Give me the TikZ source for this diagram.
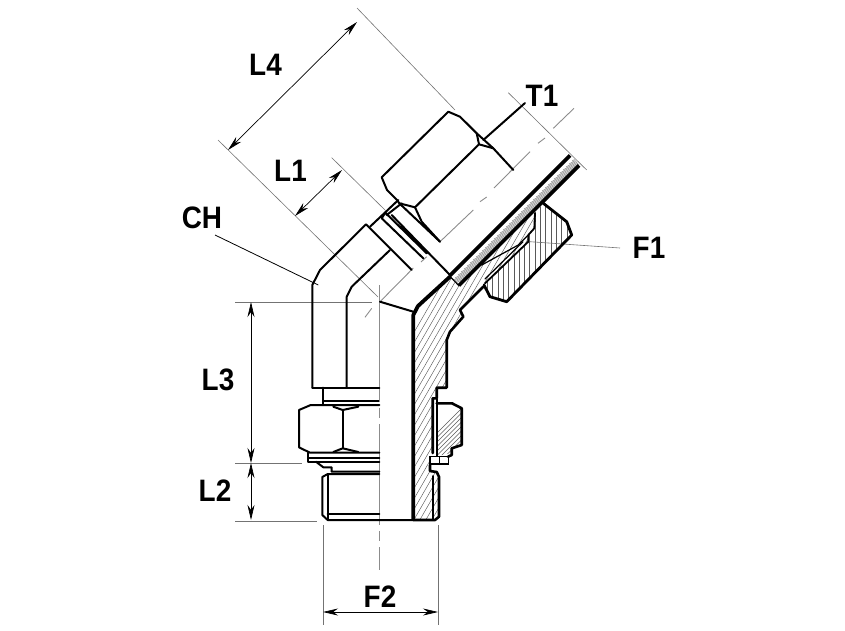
\documentclass[tikz,border=0pt]{standalone}
\usepackage{fontspec}
\setmainfont{Liberation Sans}
\usetikzlibrary{arrows.meta}
\tikzset{
 obj/.style={line width=2pt,line join=round,line cap=round},
 thin obj/.style={line width=1.3pt},
 heavy/.style={line width=3.8pt,line join=round},
 ext/.style={line width=.6pt,draw=black!55},
 cen/.style={line width=.9pt,draw=black!45},
 dim/.style={line width=.7pt,draw=black,{Stealth[length=15pt,width=7pt]}-{Stealth[length=15pt,width=7pt]}},
 lead/.style={line width=.8pt},
 hatchl/.style={line width=.45pt,draw=black!65},
 lab/.style={font=\fontsize{31}{31}\selectfont\bfseries,inner sep=0pt,xscale=.9,transform shape}
}
\begin{document}
\begin{tikzpicture}[x=1pt,y=-1pt]
\useasboundingbox (0,0) rectangle (845,630);
% ---- coordinates for dimensions
\coordinate (L4a) at (357,22); \coordinate (L4b) at (228,150);
\coordinate (L1a) at (342,170); \coordinate (L1b) at (295,216);
\coordinate (L3a) at (251,302); \coordinate (L3b) at (251,463);
\coordinate (L2a) at (251,463); \coordinate (L2b) at (251,520);
\coordinate (F2a) at (323,612); \coordinate (F2b) at (438,612);
% ---- hatching, clipped
\begin{scope}
 \clip (413.3,315)--(418,306)--(450,276.7)--(458.3,285)--(535,208)--(534.3,228.3)--(528.3,235)--(528.3,241.7)--(483.3,286.7)--(460,310)--(463.3,316.7)--(450,331.7)--(446.7,340)--(446.7,387.7)--(436.7,387.7)--(436.7,398.3)--(432.7,398.3)--(432.7,453)--(430,456)--(430,471)--(436.7,472)--(439,477)--(439,516.7)--(435,520)--(413.3,520)--cycle;
 \foreach \i in {300,306,...,900} \draw[hatchl] (\i,530)--(\i+300,10);
\end{scope}
\begin{scope}
 \clip (436.7,403.3)--(452,403.3)--(461.7,408.3)--(461.7,445)--(451.7,448.3)--(451.7,453)--(436.7,456)--cycle;
 \foreach \i in {400,404.5,...,540} \draw[hatchl] (\i,470)--(\i+70,400);
\end{scope}
\begin{scope}
 \clip (485,283.3)--(528.3,241.7)--(528.3,235)--(534.3,228.3)--(535,213)--(543.3,203.3)--(566.7,221.7)--(571.7,235)--(506.7,301.7)--(490,296.7)--cycle;
 \foreach \i in {482,487.3,...,575} \draw[hatchl] (\i,195)--(\i,305);
\end{scope}
\begin{scope}
 \clip (569.5,154)--(579.5,165)--(458.8,286)--(448.8,275.5)--cycle;
 \foreach \t in {0,...,56} \draw[line width=.7pt,draw=black!40] (443+3*\t,290-3*\t)--++(22,-12);
\end{scope}
% ---- centre lines
\draw[cen] (379.5,285)--(379.5,402) (379.5,408)--(379.5,418) (379.5,424)--(379.5,525) (379.5,531)--(379.5,541) (379.5,547)--(379.5,570);
\draw[cen] (574,108.3)--(553.3,128.3) (545,138)--(538,143.3) (530,151.7)--(494,188) (486.7,197)--(480,201.7) (473.3,210)--(440,241.7)
 (426.7,256.7)--(421,262) (413.3,268)--(380,301.7) (371.7,308.3)--(365,317.3);
% ---- extension lines
\draw[ext] (235,302)--(372,302) (235,463)--(302,463) (235,521)--(317,521);
\draw[ext] (323,525)--(323,625) (438,525)--(438,625);
\draw[ext] (357,8)--(455,110) (218,140)--(378,297);
\draw[ext] (331.7,157.7)--(385,210);
\draw[ext] (508.3,92.7)--(586.7,170);
\draw[ext] (530,241.7)--(620,248);
% ---- upper nut and tube
\draw[obj] (483.3,140)--(525,103);
\draw[obj] (397,200)--(387,190)--(381.7,177.3)--(448.3,111.7)--(460,116.7)--(476.7,133.3)--(479,144.3)--(415,207.3)--(399.3,203.3)--(397,200);
\draw[obj] (476.7,133.3)--(493.3,148.3)--(513.3,170);
\draw[obj] (479,144.3)--(493.3,148.3);
\draw[obj] (399.3,203.3)--(440,241.7);
\draw[obj] (415,207.3)--(421.7,221.7)--(440,241.7);
% ---- neck and collar
\draw[obj] (398.3,200)--(370,226.7) (401.7,203.3)--(386.7,215);
\draw[obj] (381.7,218.3)--(423.3,258.3) (385.3,212.7)--(426.7,253.3) (391.7,215)--(450,275) (381.7,218.3)--(385.3,212.7);
% ---- elbow body
\draw[obj] (312.3,387.7)--(312.3,285)--(320,270)--(366,224.3)--(411.7,270);
\draw[obj] (390,250)--(351.7,286.7)--(346.7,296.7)--(346.7,387.7);
\draw[obj] (312.3,387.7)--(379.3,387.7);
\draw[obj] (380,301.7)--(413.3,311.7);
\draw[lead] (215,235)--(318.3,285);
% ---- lower left: hex, collars, stud
\draw[obj] (323.3,387.7)--(323.3,405);
\draw[heavy,line width=2.4pt] (323.3,400.7)--(379.3,400.7);
\draw[obj] (310.7,405)--(299,410)--(299,447.3)--(310,452.7)--(379.3,452.7) (310.7,405)--(379.3,405);
\draw[obj] (342.7,410)--(342.7,448.3);
\draw[obj] (333.3,406.7)--(342.7,410)--(358.3,406.7) (333.3,452)--(342.7,448.3)--(358.3,452);
\draw[obj] (308.3,452.7)--(308.3,461.7)--(379.3,461.7) (309,458.3)--(379.3,458.3);
\draw[obj] (316,461.7)--(323.3,467.3)--(331.7,467.3)--(331.7,471.7)--(379.3,471.7);
\draw[obj] (327.7,474)--(379.3,474) (327.7,474)--(322.3,477)--(322.3,515)--(327.7,520)--(413,520);
\draw[obj] (327.7,474)--(327.7,520) (327.7,514)--(379.3,514);
% ---- section: bore wall
\draw[heavy] (413.3,520)--(413.3,315)--(418,306)--(450,276.7);
\draw[line width=3.6pt] (449.5,276)--(570,155.5) (458.8,285.5)--(579,165.5);
\draw[line width=1.2pt] (449.5,276)--(458.8,285.5);
% ---- section: outer profile
\draw[obj,line width=2.6pt] (483.3,286.7)--(460,310)--(463.3,316.7)--(450,331.7)--(446.7,340)--(446.7,387.7)--(436.7,387.7)--(436.7,398.3)--(432.7,398.3)--(432.7,453);
\draw[obj,line width=1.8pt] (436.7,399)--(436.7,456);
\draw[obj,line width=2.6pt] (436.7,403.3)--(452,403.3)--(461.7,408.3)--(461.7,445)--(451.7,448.3)--(451.7,455)--(448,456.7);
\draw[thin obj] (430,456.7)--(448.3,456.7)--(448.3,464)--(430,464)--cycle (439.3,456.7)--(439.3,464);
\draw[obj,line width=2.6pt] (430,465)--(430,471)--(436.7,472)--(439,476.7)--(439,516.7)--(435,520)--(413.3,520);
\draw[obj,line width=1.6pt] (432.7,476)--(432.7,520);
% ---- section: swivel nut and seal
\draw[obj,line width=2.8pt] (484,285)--(490,296.7)--(506.7,301.7)--(571.7,235)--(566.7,221.7)--(543.3,203.3);
\draw[obj,line width=1.8pt] (535,213)--(534.3,228.3)--(528.3,235)--(528.3,241.7)--(485,283.3);
\draw[obj,line width=1.2pt] (481.7,265)--(518.3,245)--(528.3,235);
\draw[obj,line width=1.2pt] (485,279)--(523,241.7);
% ---- dimensions
\draw[dim] (L4a)--(L4b);
\draw[dim] (L1a)--(L1b);
\draw[dim] (L3a)--(L3b);
\draw[dim] (L2a)--(L2b);
\draw[dim] (F2a)--(F2b);
% ---- labels
\node[lab] (tL4) at (265.5,64.5) {L4};
\node[lab] (tT1) at (542,96) {T1};
\node[lab] (tL1) at (290.5,170.5) {L1};
\node[lab] (tCH) at (202,218) {CH};
\node[lab] (tF1) at (649,247.5) {F1};
\node[lab] (tL3) at (218,380) {L3};
\node[lab] (tL2) at (215,491) {L2};
\node[lab] (tF2) at (380,597) {F2};
\end{tikzpicture}
\end{document}
